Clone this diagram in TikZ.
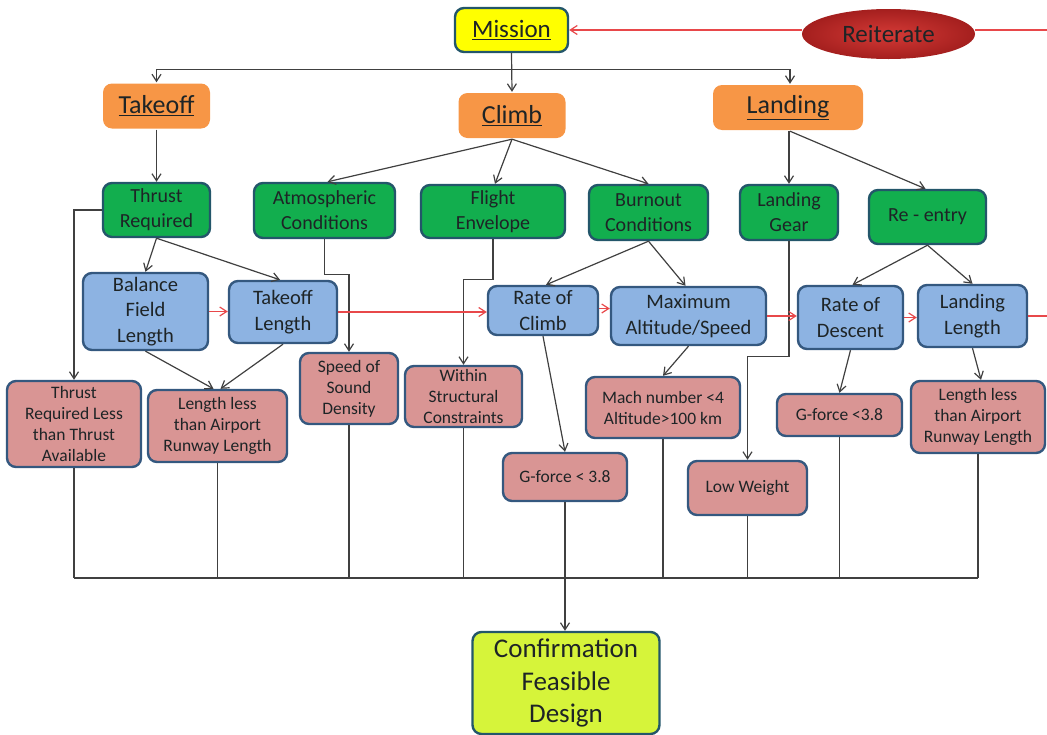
\documentclass[tikz,border=0pt]{standalone}
\usepackage{fontspec}
\setmainfont{Carlito}
\usetikzlibrary{arrows.meta,shapes.geometric,calc}

\definecolor{edgeblue}{HTML}{34587F}
\definecolor{edgeteal}{HTML}{23566A}
\definecolor{fillgreen}{HTML}{12AE4E}
\definecolor{fillblue}{HTML}{8DB3E2}
\definecolor{fillpink}{HTML}{D99594}
\definecolor{fillorange}{HTML}{F79646}
\definecolor{fillyellow}{HTML}{FFFF00}
\definecolor{filllime}{HTML}{D6F43A}
\definecolor{linegray}{HTML}{404040}
\definecolor{linered}{HTML}{E8484A}
\definecolor{ovalinner}{HTML}{D43A36}
\definecolor{ovalouter}{HTML}{A41F1E}
\definecolor{inkdark}{HTML}{1E2426}

\tikzset{
  basebox/.style={line width=2.4pt, rounded corners=9pt, inner sep=0pt,
    align=center, text=inkdark},
  missionbox/.style={basebox, draw=edgeteal, fill=fillyellow,
    font=\fontsize{25}{30}\selectfont},
  phasebox/.style={basebox, fill=fillorange, font=\fontsize{26}{30}\selectfont},
  reqbox/.style={basebox, draw=edgeteal, fill=fillgreen,
    font=\fontsize{20}{25}\selectfont},
  parambox/.style={basebox, draw=edgeblue, fill=fillblue,
    font=\fontsize{20.5}{25.5}\selectfont},
  critbox/.style={basebox, draw=edgeblue, fill=fillpink,
    font=\fontsize{17.5}{21}\selectfont},
  resultbox/.style={basebox, draw=edgeteal, fill=filllime,
    font=\fontsize{27}{32.5}\selectfont},
  loopoval/.style={ellipse, inner sep=0pt, inner color=ovalinner,
    outer color=ovalouter, text=inkdark, font=\fontsize{25}{30}\selectfont},
  conn/.style={draw=linegray, line width=1.2pt,
    -{Straight Barb[length=7pt,width=9pt]}},
  plainline/.style={draw=linegray, line width=1.2pt},
  redconn/.style={draw=linered, line width=1.2pt,
    -{Straight Barb[length=7pt,width=9pt]}},
  redline/.style={draw=linered, line width=1.2pt},
}

\begin{document}
\begin{tikzpicture}[x=1pt,y=-1pt]
\useasboundingbox (0,0) rectangle (1047,734);

% top level
\node[missionbox, minimum width=113pt, minimum height=44pt] (mission) at (511.5,30) {\underline{Mission}};
\node[loopoval, minimum width=173pt, minimum height=50pt] (reit) at (888.5,34) {Reiterate};

% mission phases
\node[phasebox, minimum width=107pt, minimum height=45pt] (takeoff) at (156.5,106) {\underline{Takeoff}};
\node[phasebox, minimum width=107pt, minimum height=45pt] (climb) at (512,115.5) {\underline{Climb}};
\node[phasebox, minimum width=150pt, minimum height=45pt] (landing) at (788,107.5) {\underline{Landing}};

% requirements
\node[reqbox, minimum width=107pt, minimum height=54pt] (thrust) at (156.5,210) {Thrust\\Required};
\node[reqbox, minimum width=141pt, minimum height=55pt] (atm) at (324.5,210.5) {Atmospheric\\Conditions};
\node[reqbox, minimum width=144pt, minimum height=53pt] (fenv) at (493,211.5) {Flight\\Envelope};
\node[reqbox, minimum width=119pt, minimum height=55pt] (burnout) at (648.5,212.5) {Burnout\\Conditions};
\node[reqbox, minimum width=98pt, minimum height=55pt] (lgear) at (789,212.5) {Landing\\Gear};
\node[reqbox, minimum width=117pt, minimum height=54pt] (reentry) at (927.5,217) {Re - entry};

% design parameters
\node[parambox, minimum width=125pt, minimum height=77pt] (bfl) at (145.5,311.5) {Balance\\Field\\Length};
\node[parambox, minimum width=108pt, minimum height=62pt] (tl) at (283,312) {Takeoff\\Length};
\node[parambox, minimum width=110pt, minimum height=49pt] (roc) at (543,310.5) {Rate of\\Climb};
\node[parambox, minimum width=155pt, minimum height=58pt] (mas) at (688.5,316) {Maximum\\Altitude/Speed};
\node[parambox, minimum width=105pt, minimum height=63pt] (rod) at (850.5,317.5) {Rate of\\Descent};
\node[parambox, minimum width=109pt, minimum height=62pt] (ll) at (972.5,316) {Landing\\Length};

% criteria
\node[critbox, minimum width=134pt, minimum height=86pt] (c1) at (74,424) {Thrust\\Required Less\\than Thrust\\Available};
\node[critbox, minimum width=139pt, minimum height=72pt] (c2) at (217.5,426) {Length less\\than Airport\\Runway Length};
\node[critbox, minimum width=98pt, minimum height=71pt] (c3) at (349,388.5) {Speed of\\Sound\\Density};
\node[critbox, minimum width=117pt, minimum height=61pt] (c4) at (463.5,396.5) {Within\\Structural\\Constraints};
\node[critbox, minimum width=124pt, minimum height=48pt] (c5) at (565,477) {G-force < 3.8};
\node[critbox, minimum width=154pt, minimum height=61pt] (c6) at (663,407.5) {Mach number <4\\Altitude>100 km};
\node[critbox, minimum width=119pt, minimum height=54pt] (c7) at (747.5,488) {Low Weight};
\node[critbox, minimum width=125pt, minimum height=42pt] (c8) at (839.5,415) {G-force <3.8};
\node[critbox, minimum width=134pt, minimum height=72pt] (c9) at (978,417) {Length less\\than Airport\\Runway Length};

% outcome
\node[resultbox, minimum width=187pt, minimum height=102pt] (conf) at (566,683) {Confirmation\\Feasible\\Design};

\coordinate (bus) at (0,578);
\coordinate (rim) at (1047,0);

% mission to phases
\draw[conn] (mission.south) -- (climb.north);
\draw[conn] (mission.south) -- ++(0,16) -| (takeoff.north);
\draw[conn] (mission.south) -- ++(0,16) -| ([xshift=2pt]landing.north);

% phases to requirements
\draw[conn] (takeoff.south) -- (thrust.north);
\draw[conn] (climb.south) -- ([xshift=3pt]atm.north);
\draw[conn] (climb.south) -- ([xshift=2pt]fenv.north);
\draw[conn] (climb.south) -- (burnout.north);
\draw[conn] ([xshift=1pt]landing.south) -- (lgear.north);
\draw[conn] ([xshift=2pt]landing.south) -- ([xshift=-2pt]reentry.north);

% requirements to parameters and criteria
\draw[conn] (thrust.south) -- (bfl.north);
\draw[conn] (thrust.south) -- ([xshift=-3pt]tl.north);
\draw[conn] (thrust.west) -| (c1.north);
\draw[conn] (bfl.south) -- ([xshift=-4pt]c2.north);
\draw[conn] (tl.south) -- ([xshift=3pt]c2.north);
\draw[conn] (atm.south) -- ++(0,35) -| (c3.north);
\draw[conn] (fenv.south) -- ++(0,40) -| (c4.north);
\draw[conn] (burnout.south) -- ([xshift=3pt]roc.north);
\draw[conn] (burnout.south) -- ([xshift=-3pt]mas.north);
\draw[conn] (roc.south) -- (c5.north);
\draw[conn] (mas.south) -- (c6.north);
\draw[conn] (lgear.south) -- ++(0,115) -| (c7.north);
\draw[conn] (reentry.south) -- ([xshift=2pt]rod.north);
\draw[conn] (reentry.south) -- (ll.north);
\draw[conn] (rod.south) -- (c8.north);
\draw[conn] (ll.south) -- ([xshift=3pt]c9.north);

% sequence of the flight
\draw[redconn] (bfl.east) -- (bfl.east -| tl.west);
\draw[redconn] (tl.east) -- (tl.east -| roc.west);
\draw[redconn] ([yshift=2pt]roc.east) -- ([yshift=2pt]roc.east -| mas.west);
\draw[redconn] (mas.east) -- (mas.east -| rod.west);
\draw[redconn] (rod.east) -- (rod.east -| ll.west);
\draw[redline] (ll.east) -- (ll.east -| rim);
\draw[redline] (mission.east -| rim) -- (mission.east -| reit.east);
\draw[redconn] (mission.east -| reit.west) -- (mission.east);

% criteria gathered to the outcome
\foreach \c in {c1,c2,c3,c4,c6,c7,c8,c9}
  \draw[plainline] (\c.south) -- (\c.south |- bus);
\draw[plainline] (c1.south |- bus) -- (c9.south |- bus);
\draw[conn] (c5.south) -- (c5.south |- conf.north);
\end{tikzpicture}
\end{document}
